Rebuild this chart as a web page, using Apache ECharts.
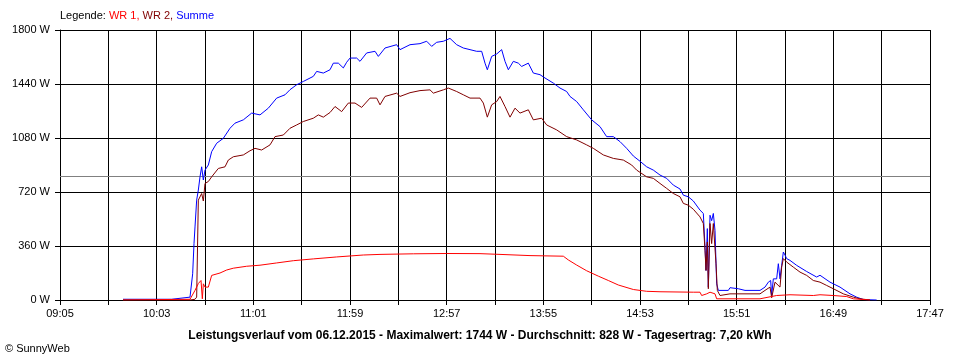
<!DOCTYPE html>
<html><head><meta charset="utf-8">
<script src="https://cdn.jsdelivr.net/npm/echarts@6/dist/echarts.min.js"></script>
<style>html,body{margin:0;padding:0;background:#fff}#c{width:960px;height:360px}</style>
</head><body><div id="c"></div>
<script>
// time axis: minutes after 09:05
const startMinute = 545;
const axisSpan = 522;      // 09:05 .. 17:47
const tickStep = 29;
const averageW = 828;
const yMaxW = 1800;
const yStepW = 360;

// [minutes after 09:05, W]
const summe = [[37.8,5],[67,5],[67.2,10],[78,19],[79.6,175],[80.4,376],[81,487],[82,666],[83,733],[84,821],[85,888],[86,800],[87,866],[89,900],[91,989],[94,1045],[98,1078],[102,1145],[105,1179],[110,1201],[115,1246],[120,1234],[125,1279],[130,1346],[135,1368],[138,1402],[142,1435],[146,1457],[152,1491],[154,1524],[158,1513],[162,1535],[164,1579],[167,1579],[170,1547],[172,1585],[174,1613],[178,1613],[180,1591],[184,1647],[189,1658],[191,1624],[195,1680],[202,1702],[204,1669],[210,1702],[216,1709],[220,1725],[223,1691],[226,1718],[230,1725],[234,1744],[238,1702],[242,1680],[246,1669],[250,1658],[253,1658],[255,1579],[256.4,1535],[259,1624],[262,1640],[265,1669],[267,1591],[269,1535],[272,1591],[275,1579],[277,1557],[281,1579],[284,1513],[288,1502],[291,1480],[296,1446],[300,1413],[304,1390],[306,1357],[310,1323],[314,1268],[319,1201],[324,1156],[328,1089],[332,1089],[336,1056],[340,1011],[344,960],[348,925],[352,888],[356,866],[360,833],[364,811],[368,766],[372,740],[374,699],[377,688],[380,660],[384,599],[386,577],[387,353],[387.6,197],[388.4,476],[389,86],[390,565],[391,529],[392,577],[393,464],[394,108],[395,64],[401,64],[402,82],[407,75],[411,64],[420,64],[423,86],[425,119],[426.4,130],[427,30],[428,141],[430,141],[431,242],[432,141],[433,231],[434,320],[435,300],[436,276],[438,264],[442,231],[448,190],[454,153],[456,165],[462,119],[468,86],[474,41],[478,19],[482,3],[490,0]];

const wr2 = [[37.8,0],[78,0],[81,5],[82,19],[83,666],[85,710],[86,660],[87,777],[89,790],[91,821],[95,877],[99,888],[101,933],[104,955],[110,967],[114,995],[117,1011],[121,1000],[126,1034],[129,1089],[134,1100],[138,1145],[142,1167],[146,1190],[152,1212],[155,1234],[158,1219],[162,1250],[165,1290],[169,1256],[173,1313],[177,1313],[181,1284],[186,1346],[190,1346],[192,1301],[195,1357],[202,1379],[204,1357],[210,1382],[216,1396],[222,1401],[224,1379],[230,1401],[233,1413],[238,1390],[242,1368],[246,1346],[252,1346],[254,1313],[256.4,1219],[259,1301],[262,1323],[264,1357],[267,1290],[270,1219],[273,1279],[276,1246],[281,1268],[284,1201],[289,1212],[292,1167],[298,1134],[304,1089],[310,1067],[316,1034],[320,1011],[326,967],[332,944],[338,933],[343,900],[346,866],[352,821],[356,811],[360,777],[364,744],[368,710],[372,688],[374,644],[377,632],[380,605],[384,554],[386,510],[387,331],[387.6,197],[388.4,387],[389,75],[390,510],[391,376],[392,510],[393.6,242],[394.4,64],[396,30],[402,41],[420,41],[423,64],[426,86],[427,15],[429,119],[432,86],[433,219],[434,276],[436,253],[440,219],[444,186],[448,164],[452,130],[456,119],[460,97],[464,75],[470,41],[476,19],[480,8],[486,0]];

const wr1 = [[37.8,0],[78,5],[81,64],[83,110],[84.6,130],[85.4,8],[86,108],[87,86],[89,86],[91,164],[96,180],[100,200],[104,212],[112,225],[120,232],[130,247],[140,262],[152,274],[166,287],[182,300],[192,304],[212,308],[232,310],[252,309],[264,304],[282,296],[302,292],[305,267],[310,233],[316,195],[323,159],[329,130],[335,100],[344,70],[352,58],[360,55],[380,52],[384,52],[385,30],[388,41],[390,52],[393,41],[394,8],[420,8],[421,19],[430,30],[438,35],[452,30],[456,35],[464,30],[472,23],[476,8],[486,0]];

const legendParts = ['Legende: ', 'WR 1, ', 'WR 2, ', 'Summe'];
const footerTitle = 'Leistungsverlauf vom 06.12.2015 - Maximalwert: 1744 W - Durchschnitt: 828 W - Tagesertrag: 7,20 kWh';
const copyright = '\u00A9 SunnyWeb';

function fmtTime(v){
  const t = startMinute + v;
  const h = Math.floor(t/60), m = Math.round(t%60);
  return (h<10?'0':'')+h+':'+(m<10?'0':'')+m;
}

const font = 'Liberation Sans, Arial, sans-serif';
const chart = echarts.init(document.getElementById('c'), null, {renderer:'canvas'});
chart.setOption({
  animation:false,
  backgroundColor:'#fff',
  textStyle:{fontFamily:font},
  grid:{left:60, top:30, width:870, height:270, containLabel:false},
  xAxis:{
    type:'value', min:0, max:axisSpan, interval:tickStep,
    axisLine:{lineStyle:{color:'#000', width:1}},
    axisTick:{show:true, length:5, lineStyle:{color:'#000'}},
    splitLine:{show:true, lineStyle:{color:'#000', width:1}},
    axisLabel:{color:'#000', fontSize:11, fontFamily:font, margin:8,
      formatter:function(v){ return (Math.round(v) % (2*tickStep) === 0) ? fmtTime(v) : ''; }}
  },
  yAxis:{
    type:'value', min:0, max:yMaxW, interval:yStepW,
    axisLine:{show:true, lineStyle:{color:'#000', width:1}},
    axisTick:{show:true, length:5, lineStyle:{color:'#000'}},
    splitLine:{show:true, lineStyle:{color:'#000', width:1}},
    axisLabel:{color:'#000', fontSize:11, fontFamily:font, margin:10, formatter:function(v){ return String(v) + ' W'; }}
  },
  graphic:[
    {type:'text', left:60, top:10, style:{
      text:'{k|'+legendParts[0]+'}{a|'+legendParts[1]+'}{b|'+legendParts[2]+'}{c|'+legendParts[3]+'}',
      rich:{k:{fill:'#000',fontSize:11,fontFamily:font},a:{fill:'#ff0000',fontSize:11,fontFamily:font},
            b:{fill:'#800000',fontSize:11,fontFamily:font},c:{fill:'#0000ff',fontSize:11,fontFamily:font}}
    }},
    {type:'text', x:480, y:336, style:{text:footerTitle, fill:'#000', font:'bold 12px '+font, textAlign:'center', textVerticalAlign:'middle'}},
    {type:'text', x:5, y:349, style:{text:copyright, fill:'#000', font:'11px '+font, textAlign:'left', textVerticalAlign:'middle'}}
  ],
  series:[
    {name:'Summe', type:'line', data:summe, showSymbol:false, symbol:'none', lineStyle:{color:'#0000ff', width:1}, itemStyle:{color:'#0000ff'}, z:3,
      markLine:{silent:true, symbol:'none', label:{show:false}, lineStyle:{color:'#808080', type:'solid', width:1}, data:[{yAxis:averageW}], z:1}},
    {name:'WR 2', type:'line', data:wr2, showSymbol:false, symbol:'none', lineStyle:{color:'#800000', width:1}, itemStyle:{color:'#800000'}, z:4},
    {name:'WR 1', type:'line', data:wr1, showSymbol:false, symbol:'none', lineStyle:{color:'#ff0000', width:1}, itemStyle:{color:'#ff0000'}, z:5}
  ]
});
</script></body></html>
